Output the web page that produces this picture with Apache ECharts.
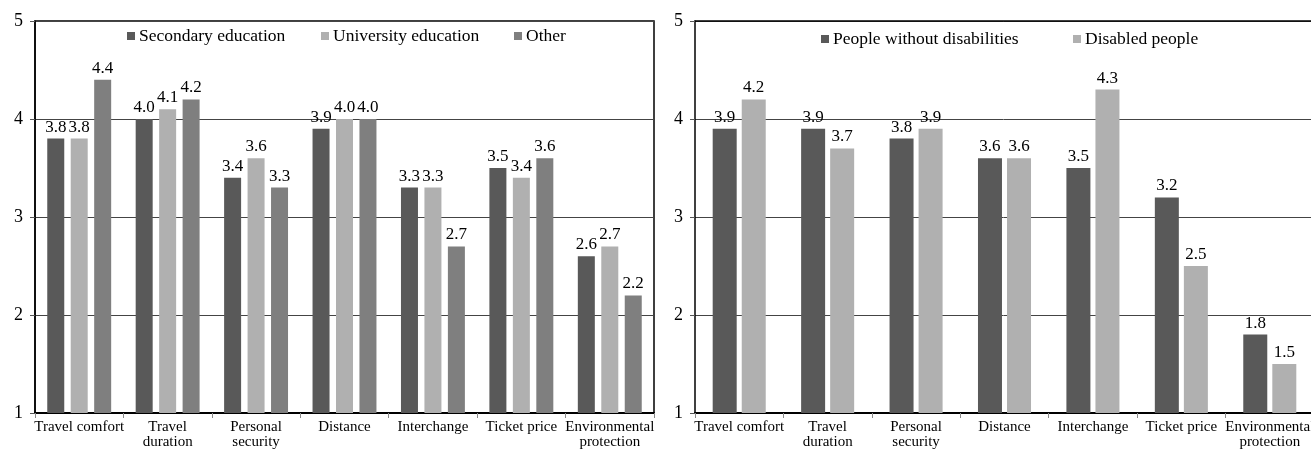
<!DOCTYPE html>
<html><head><meta charset="utf-8">
<script src="https://cdn.jsdelivr.net/npm/echarts@6/dist/echarts.min.js"></script>
<style>html,body{margin:0;padding:0;background:#fff;overflow:hidden}#c{width:1311px;height:450px}</style>
</head><body><div id="c"></div>
<script>
const categories = ['Travel comfort','Travel\nduration','Personal\nsecurity','Distance','Interchange','Ticket price','Environmental\nprotection'];
const yTicks = [1,2,3,4,5];
const secondary = [3.8,4.0,3.4,3.9,3.3,3.5,2.6];
const university = [3.8,4.1,3.6,4.0,3.3,3.4,2.7];
const other = [4.4,4.2,3.3,4.0,2.7,3.6,2.2];
const withoutDis = [3.9,3.9,3.8,3.6,3.5,3.2,1.8];
const disabled = [4.2,3.7,3.9,3.6,4.3,2.5,1.5];

const FONT = '"Liberation Serif", "Times New Roman", serif';
const C_DARK = '#595959', C_LIGHT = '#b0b0b0', C_MID = '#7f7f7f';

const chart = echarts.init(document.getElementById('c'));
function yAx(i){ return {gridIndex:i,type:'value',min:yTicks[0],max:yTicks[yTicks.length-1],interval:1,
  axisLine:{show:true,lineStyle:{color:'#000',width:1.5}},
  axisTick:{show:true,length:5,lineStyle:{color:'#555'}},
  axisLabel:{color:'#000',fontFamily:FONT,fontSize:18,margin:12},
  splitLine:{show:true,lineStyle:{color:'#444',width:1}}}; }
function xAx(i){ return {gridIndex:i,type:'category',data:categories,
  axisLine:{show:true,lineStyle:{color:'#000',width:2}},
  axisTick:{show:true,length:5,lineStyle:{color:'#888'}},
  axisLabel:{color:'#000',fontFamily:FONT,fontSize:15,lineHeight:15,margin:7,interval:0}}; }
const lbl = {show:true,position:'top',distance:3,color:'#000',fontFamily:FONT,fontSize:17,formatter:p=>p.value.toFixed(1)};
function bar(name,data,color,i,bw,gap){ return {name,type:'bar',xAxisIndex:i,yAxisIndex:i,data,barWidth:bw,barGap:gap,
  itemStyle:{color},label:lbl}; }
function leg(name,left,top){ return {data:[name],left,top,itemWidth:8,itemHeight:8,icon:'rect',itemGap:0,
  textStyle:{fontFamily:FONT,fontSize:17.5,color:'#000',padding:[0,0,0,-1]},selectedMode:false,padding:0}; }

chart.setOption({
  animation:false,
  grid:[
    {left:35,top:21,width:619,height:392,show:true,borderColor:'#000',borderWidth:1.5,outerBoundsMode:'none',containLabel:false},
    {left:695,top:21,width:619,height:392,show:false,outerBoundsMode:'none',containLabel:false}
  ],
  legend:[
    leg('Secondary education',127,27),
    leg('University education',321,27),
    leg('Other',514,27),
    leg('People without disabilities',821,30),
    leg('Disabled people',1073,30)
  ],
  xAxis:[xAx(0),xAx(1),
    {gridIndex:1,type:'category',data:categories,position:'top',
     axisLine:{show:true,lineStyle:{color:'#000',width:1.5}},axisTick:{show:false},axisLabel:{show:false},splitLine:{show:false}}],
  yAxis:[yAx(0),yAx(1)],
  series:[
    bar('Secondary education',secondary,C_DARK,0,17,'38%'),
    bar('University education',university,C_LIGHT,0,17,'38%'),
    bar('Other',other,C_MID,0,17,'38%'),
    bar('People without disabilities',withoutDis,C_DARK,1,24,'21%'),
    bar('Disabled people',disabled,C_LIGHT,1,24,'21%')
  ]
});
</script></body></html>
